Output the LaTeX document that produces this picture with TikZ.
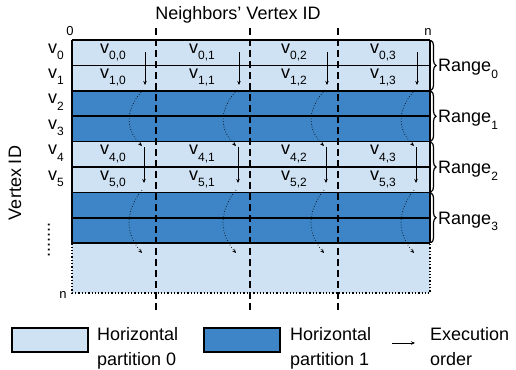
\documentclass[tikz,border=0pt]{standalone}
\usepackage{fontspec}
\setmainfont{Liberation Sans}
\usetikzlibrary{decorations.pathreplacing,arrows.meta}
\definecolor{lightp}{HTML}{CFE2F3}
\definecolor{darkp}{HTML}{3D85C6}
\newcommand\vsub[2]{#1\raisebox{-6.5pt}{\fontsize{12}{12}\selectfont #2}}
\tikzset{
  txt/.style={inner sep=0pt, font=\fontsize{18}{20}\selectfont},
  small/.style={inner sep=0pt, font=\fontsize{13}{14}\selectfont},
  rowline/.style={line width=1.7pt, black},
  dashline/.style={line width=1.8pt, dash pattern=on 7pt off 4pt},
  execarrow/.style={line width=0.7pt, -{Stealth[length=4pt,width=3.5pt]}},
  dotarrow/.style={line width=0.7pt, dotted, -{Stealth[length=4pt,width=3.5pt]}},
  rangebrace/.style={decorate, decoration={brace, amplitude=5pt}, line width=1.2pt},
  legbox/.style={draw, line width=1.5pt, minimum width=76pt, minimum height=24pt, inner sep=0pt},
}
\begin{document}
\begin{tikzpicture}[x=1pt,y=-1pt]
\useasboundingbox (0,0) rectangle (516,369);
% title
\node[txt, anchor=base] (title) at (238,20) {Neighbors’ Vertex ID};
\node[small, anchor=base] (zero) at (70,36) {0};
\node[small, anchor=base] (ntop) at (428,36) {n};
\node[txt, rotate=90] (vid) at (15,183) {Vertex ID};
% row fills
\foreach \k/\c in {0/lightp,1/lightp,2/darkp,3/darkp,4/lightp,5/lightp,6/darkp,7/darkp}{
  \fill[\c] (72,{40+25.4*\k}) rectangle (430,{40+25.4*(\k+1)});
}
\fill[lightp] (72,243.2) rectangle (430,293);
\draw[line width=1.3pt, dotted] (72,243.2) -- (72,293) -- (430,293) -- (430,243.2);
% row lines
\foreach \k in {0,...,8}{
  \draw[rowline] (72,{40+25.4*\k}) -- (430,{40+25.4*\k});
}
\draw[rowline] (72,40) -- (72,243.2);
\draw[rowline] (430,40) -- (430,243.2);
% dashed column lines
\foreach \x in {156,250,338}{
  \draw[dashline] (\x,28) -- (\x,312);
}
% row labels
\foreach \k in {0,...,5}{
  \node[txt, anchor=base west] (r\k) at (48,{40+25.4*\k+13}) {\vsub{v}{\k}};
}
\node[txt, rotate=90] (vdots) at (49,240) {.......};
\node[small, anchor=base] (nleft) at (63,298) {n};
% cell labels
\foreach \c/\xc in {0/113,1/202,2/294,3/383}{
  \foreach \r in {0,1,4,5}{
    \node[txt, anchor=base] (c\r\c) at (\xc,{40+25.4*\r+13}) {\vsub{v}{\r,\c}};
  }
}
% execution arrows
\foreach \X in {145,239,327,417}{
  \coordinate (a1) at (\X,52);
  \coordinate (a2) at (\X,85);
  \coordinate (a3) at (\X-2,90);
  \coordinate (a4) at (\X-3,146);
  \coordinate (a5) at (\X-1,147);
  \coordinate (a6) at (\X-1,183);
  \coordinate (a7) at (\X-3,190);
  \coordinate (a8) at (\X-3,253);
  \draw[execarrow] (a1) -- (a2);
  \draw[dotarrow] (a3) .. controls (\X-19,108) and (\X-21,128) .. (a4);
  \draw[execarrow] (a5) -- (a6);
  \draw[dotarrow] (a7) .. controls (\X-19,210) and (\X-21,232) .. (a8);
}
% braces and range labels
\foreach \k in {0,1,2,3}{
  \draw[rangebrace] (431,{40+50.8*\k+0.5}) -- (431,{40+50.8*(\k+1)-0.5});
  \node[txt, anchor=base west] (rg\k) at (438,{40+50.8*\k+25.4+6.5}) {\vsub{Range}{\k}};
}
% legend
\node[legbox, fill=lightp] (lg0) at (50,340) {};
\node[txt, anchor=base west] (lt0a) at (97,340) {Horizontal};
\node[txt, anchor=base west] (lt0b) at (97,365) {partition 0};
\node[legbox, fill=darkp] (lg1) at (242,340) {};
\node[txt, anchor=base west] (lt1a) at (290,340) {Horizontal};
\node[txt, anchor=base west] (lt1b) at (290,365) {partition 1};
\coordinate (ea) at (392,343);
\coordinate (eb) at (415,343);
\draw[execarrow] (ea) -- (eb);
\node[txt, anchor=base west] (lt2a) at (430,340) {Execution};
\node[txt, anchor=base west] (lt2b) at (430,365) {order};
\end{tikzpicture}
\end{document}
